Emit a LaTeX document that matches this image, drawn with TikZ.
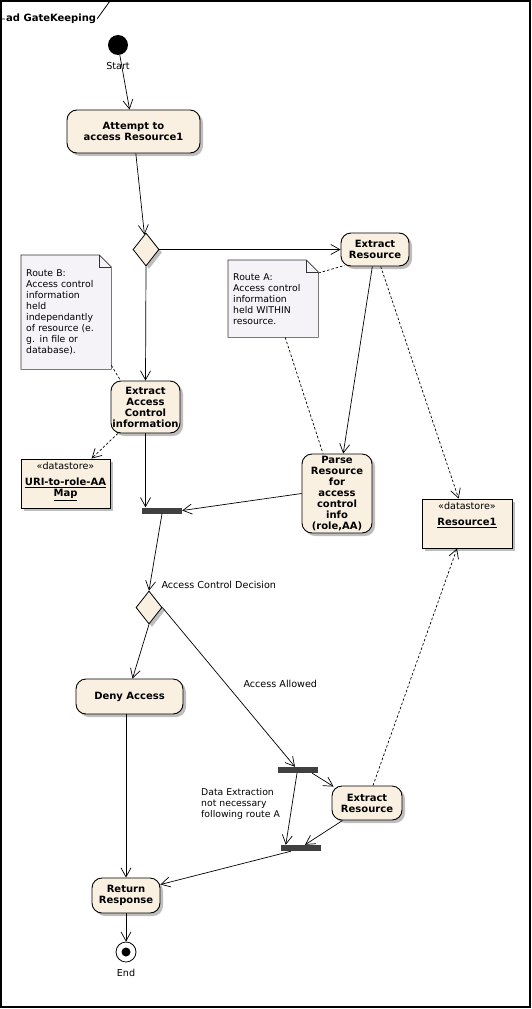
\documentclass[tikz,border=0pt]{standalone}
\usepackage{fontspec}
\setmainfont{DejaVu Sans}
\usetikzlibrary{arrows.meta,shapes.geometric,shadows,calc,backgrounds}
\definecolor{actfill}{HTML}{F9F0E2}
\definecolor{notefill}{HTML}{F5F2F8}
\definecolor{barfill}{HTML}{404040}
\definecolor{shade}{HTML}{BEBEBE}

\tikzset{
  every node/.style={font=\fontsize{9.6}{11}\selectfont},
  boldtxt/.style={font=\fontsize{10}{11}\selectfont\bfseries},
  shadowed/.style={drop shadow={shadow xshift=3pt,shadow yshift=-3pt,fill=shade,opacity=1}},
  action/.style={draw, line width=0.9pt, rounded corners=10pt, fill=actfill, shadowed,
    align=center, inner sep=0pt, boldtxt},
  decision/.style={diamond, draw, line width=0.8pt, fill=actfill, shadowed, inner sep=0pt,
    minimum width=26pt, minimum height=33pt},
  syncbar/.style={fill=barfill, inner sep=0pt, minimum width=40pt, minimum height=6pt},
  store/.style={draw, line width=0.9pt, fill=actfill, shadowed, inner sep=2pt},
  notebox/.style={anchor=north west, inner xsep=5pt, inner ysep=0pt, text width=80pt,
    minimum width=90pt, align=left, font=\fontsize{9.3}{11}\selectfont},
  noteline/.style={draw=black!80, line width=0.6pt, fill=notefill},
  flow/.style={-{Straight Barb[length=9pt,width=10pt]}, line width=0.7pt},
  trace/.style={line width=0.7pt, dash pattern=on 2.5pt off 2pt},
  tracearrow/.style={trace, -{Straight Barb[length=9pt,width=10pt]}},
}

\begin{document}
\begin{tikzpicture}[x=1pt,y=-1pt]
\useasboundingbox (0,0) rectangle (532,1009);

% diagram frame and its name tab
\draw[line width=1.3pt] (1,1) rectangle (530,1007);
\draw[line width=0.8pt] (1,19) -- (97,19) -- (110,1);
\node[boldtxt, fill=white, inner sep=1pt, anchor=west] (title) at (5,19) {ad GateKeeping};

% initial node
\node[circle, fill=black, minimum size=20pt, inner sep=0pt] (start) at (118,45) {};
\node (startlbl) at (118,66) {Start};

% actions and decisions
\node[action, minimum width=133pt, minimum height=43pt] (attempt) at (133.5,131.5) {Attempt to\\access Resource1};
\node[decision] (dec1) at (146,249.5) {};
\node[action, minimum width=68pt, minimum height=33pt] (extractR) at (375,249.5) {Extract\\Resource};
\node[action, minimum width=69pt, minimum height=52pt] (accCtrl) at (145.5,407) {Extract\\Access\\Control\\information};
\node[action, minimum width=70pt, minimum height=79pt] (parse) at (337,493.5) {Parse\\Resource\\for\\access\\control\\info\\(role,AA)};

% data stores
\node[store] (uri) at (65.5,483.5) {\begin{minipage}[c][45pt][t]{85pt}\centering
  \vspace{1pt}«datastore»\\[5pt]\textbf{\fontsize{10}{11}\selectfont\underline{URI-to-role-AA}}\\
  \textbf{\fontsize{10}{11}\selectfont\underline{Map}}\end{minipage}};
\node[store] (res1) at (467,523.5) {\begin{minipage}[c][45pt][t]{86pt}\centering
  \vspace{1pt}«datastore»\\[5pt]\textbf{\fontsize{10}{11}\selectfont\underline{Resource1}}\end{minipage}};

% notes
\node[notebox, minimum height=114pt] (noteB) at (21,255) {Route B:\\Access control\\information\\held\\independantly\\of resource (e.\\g. in file or\\database).};
\node[notebox, minimum height=77pt] (noteA) at (228,260) {Route A:\\Access control\\information\\held WITHIN\\resource.};
\begin{scope}[on background layer]
  \foreach \n in {noteB,noteA}{
    \path[noteline] (\n.south west) -- (\n.south east) -- ($(\n.north east)+(0,12)$)
      -- ($(\n.north east)+(-12,0)$) -- (\n.north west) -- cycle;
    \draw[draw=black!80, line width=0.6pt] ($(\n.north east)+(-12,0)$) -- ($(\n.north east)+(-12,12)$) -- ($(\n.north east)+(0,12)$);
  }
\end{scope}

% synchronisation bars and the lower part
\node[syncbar] (bar1) at (162,510.5) {};
\node[decision] (dec2) at (149,607.5) {};
\node[action, minimum width=107pt, minimum height=35pt] (deny) at (129.5,696.5) {Deny Access};
\node[syncbar] (fork) at (298,770) {};
\node[action, minimum width=70pt, minimum height=34pt] (extractR2) at (367,803) {Extract\\Resource};
\node[syncbar] (join) at (301,848) {};
\node[action, minimum width=68pt, minimum height=35pt] (ret) at (126,895.5) {Return\\Response};

% final node
\node[circle, draw, line width=0.8pt, fill=white, minimum size=20pt, inner sep=0pt] (endnode) at (126,952) {};
\fill (endnode.center) circle (4.5);
\node (endlbl) at (126,973) {End};

% guard and remark texts
\node[anchor=west] (lblDecision) at (158,585) {Access Control Decision};
\node[anchor=west] (lblAllowed) at (240,684) {Access Allowed};
\node[anchor=west, align=left, inner sep=0pt, font=\fontsize{9.3}{11}\selectfont] (lblSkip) at (201,804) {Data Extraction\\not necessary\\following route A};

% control flows
\draw[flow] (start) -- (attempt);
\draw[flow] (attempt) -- (dec1);
\draw[flow] (dec1.east) -- (extractR.west);
\draw[flow] (dec1.south) -- (accCtrl.north);
\draw[flow] (extractR) -- (parse);
\draw[flow] (accCtrl.south) -- (accCtrl.south |- bar1.north);
\draw[flow] (parse.west) -- (bar1.east);
\draw[flow] (bar1.south) -- (dec2.north);
\draw[flow] (dec2.south) -- ($(deny.north)+(3,0)$);
\draw[flow] (dec2.east) -- ($(fork.north)+(-3,0)$);
\draw[flow] ($(fork.south east)+(-6,0)$) -- ($(extractR2.north west)+(2,1)$);
\draw[flow] ($(fork.south)+(-1,0)$) -- ($(join.north west)+(5,0)$);
\draw[flow] ($(extractR2.south west)+(11,0)$) -- ($(join.north)+(4,0)$);
\draw[flow] (ret.north |- deny.south) -- (ret.north);
\draw[flow] ($(join.south)+(-10,0)$) -- ($(ret.east)+(0,-11)$);
\draw[flow] (ret.south) -- (endnode.north);

% object flows and note anchors
\draw[tracearrow] (extractR) -- (res1);
\draw[tracearrow] (accCtrl) -- (uri);
\draw[tracearrow] ($(extractR2.north)+(6,0)$) -- ($(res1.south)+(-10,0)$);
\draw[trace] ($(noteA.north east)+(0,13)$) -- ($(extractR.south west)+(4,-1)$);
\draw[trace] ($(noteA.south)+(12,0)$) -- ($(parse.north)+(-14,0)$);
\draw[trace] ($(noteB.south east)+(0,-4)$) -- ($(accCtrl.north west)+(10,0)$);
\end{tikzpicture}
\end{document}
